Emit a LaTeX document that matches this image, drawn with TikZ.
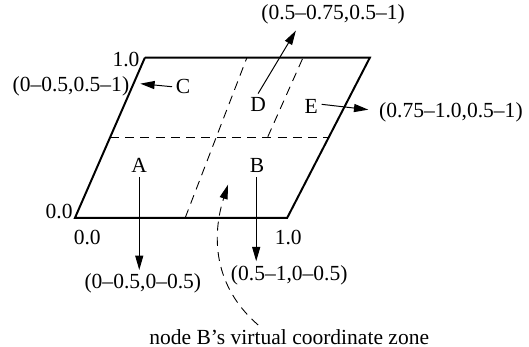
\documentclass[tikz,border=0pt]{standalone}
\usepackage{fontspec}
\setmainfont{Liberation Serif}
\usetikzlibrary{arrows.meta,calc}
\tikzset{
  edge/.style={line width=1.1pt, draw=black},
  grid/.style={line width=0.5pt, draw=black, dash pattern=on 5pt off 3.5pt},
  arr/.style={-{Triangle[length=8pt,width=4.5pt]}, line width=0.55pt, draw=black},
  lbl/.style={inner sep=2pt},
}
\begin{document}
\begin{tikzpicture}[font=\fontsize{12}{14}\selectfont]
  \useasboundingbox (0,0) rectangle (10.37,6.80);
  % the unit square, drawn slanted
  \coordinate (bl) at (1.47,2.53);
  \coordinate (br) at (5.63,2.53);
  \coordinate (tr) at (7.25,5.67);
  \coordinate (tl) at (2.84,5.67);
  \draw[edge] (tl) -- (bl) -- (br) -- (tr) -- (tl);
  \draw[grid] ($(bl)!0.5!(tl)$) -- ($(br)!0.5!(tr)$);
  \draw[grid] (3.63,2.53) -- (4.84,5.67);
  \draw[grid] (5.25,4.12) -- (5.94,5.67);
  \node[lbl] (y1) at (2.47,5.63) {1.0};
  \node[lbl] (y0) at (1.16,2.65) {0.0};
  \node[lbl] (x0) at (1.71,2.14) {0.0};
  \node[lbl] (x1) at (5.65,2.14) {1.0};
  % nodes and their zones
  \node[lbl] (A) at (2.73,3.55) {A};
  \node[lbl] (B) at (5.04,3.55) {B};
  \node[lbl] (C) at (3.59,5.10) {C};
  \node[lbl] (D) at (5.06,4.75) {D};
  \node[lbl] (E) at (6.10,4.72) {E};
  \node[lbl] (rngA) at (2.80,1.24) {(0--0.5,0--0.5)};
  \node[lbl] (rngB) at (5.67,1.41) {(0.5--1,0--0.5)};
  \node[lbl] (rngC) at (1.39,5.10) {(0--0.5,0.5--1)};
  \node[lbl] (rngD) at (6.53,6.51) {(0.5--0.75,0.5--1)};
  \node[lbl] (rngE) at (8.84,4.59) {(0.75--1.0,0.5--1)};
  \node[lbl] (zone) at (5.67,0.20) {node B's virtual coordinate zone};
  \coordinate (tipC) at (2.75,5.16);
  \coordinate (tipD) at (5.80,6.20);
  \coordinate (tipE) at (7.22,4.65);
  \coordinate (tipZ) at (4.47,3.18);
  \coordinate (tailZ) at (5.06,0.43);
  \draw[arr] (A.south) -- (A.south |- rngA.north);
  \draw[arr] ([xshift=-0.5pt]B.south) -- ([xshift=-0.5pt]B.south |- rngB.north);
  \draw[arr] (C.west) -- (tipC);
  \draw[arr] (D.north) -- (tipD);
  \draw[arr] ([yshift=1pt]E.east) -- (tipE);
  \draw[arr, grid] (tailZ) .. controls (4.0,1.35) and (4.25,2.5) .. (tipZ);
\end{tikzpicture}
\end{document}
